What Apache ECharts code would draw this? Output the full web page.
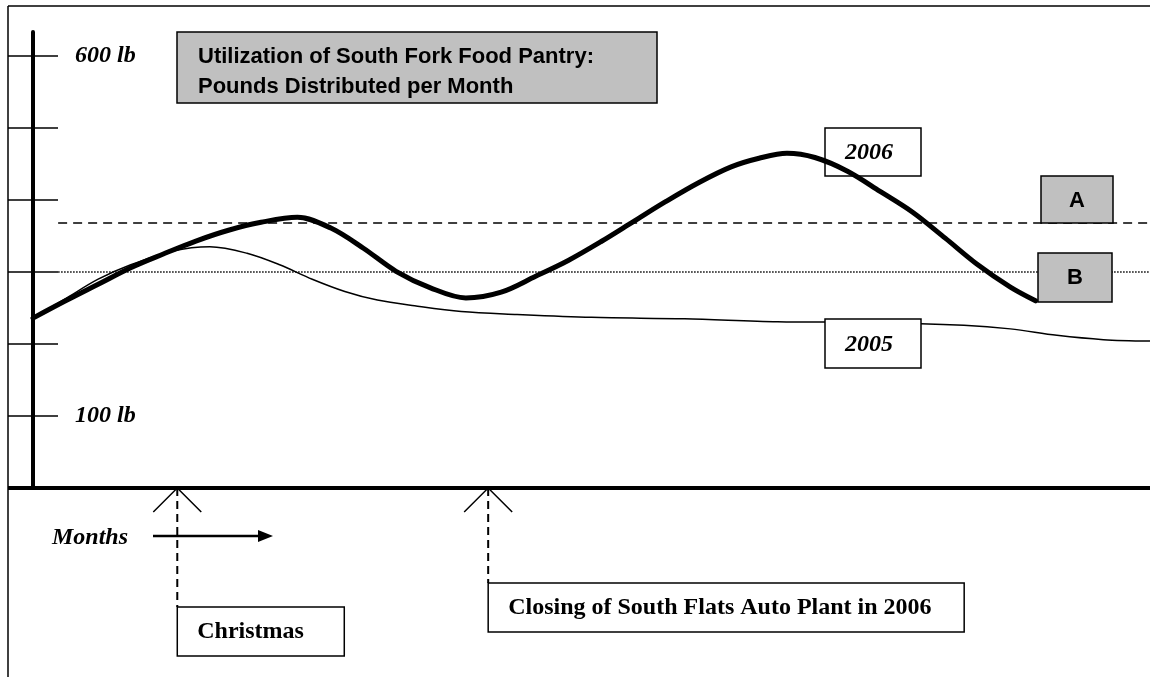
<!DOCTYPE html>
<html><head><meta charset="utf-8">
<script src="https://cdn.jsdelivr.net/npm/echarts@6/dist/echarts.min.js"></script>
<style>html,body{margin:0;padding:0;background:#fff}#c{width:1150px;height:677px}</style>
</head><body><div id="c"></div>
<script>
// ---- data (x = months from start, y = pounds) ----
const MONTHS_2006 = [0, 0.35, 0.7, 1.05, 1.4, 1.75, 2.1, 2.45, 2.84, 3.2, 3.55, 3.9, 4.27, 4.65, 5.03, 5.4, 5.75, 6.1, 6.45, 6.8, 7.15, 7.5, 7.8, 8.1, 8.4, 8.75, 9.1, 9.45, 9.8, 10.15, 10.5, 10.77];
const LB_2006     = [236, 260, 283, 306, 325, 343, 358, 369, 376, 361, 333, 301, 278, 264, 272, 294, 316, 342, 370, 398, 424, 446, 458, 465, 459, 440, 412, 383, 347, 310, 279, 260];
const MONTHS_2005 = [0, 0.35, 0.7, 1.05, 1.5, 1.9, 2.3, 2.65, 3.0, 3.35, 3.7, 4.1, 4.6, 5.2, 6, 7, 8, 9, 10, 10.5, 11, 11.5, 12];
const LB_2005     = [236, 263, 290, 310, 329, 335, 326, 310, 290, 273, 261, 253, 245, 241, 237, 235, 231, 230, 226, 221, 212, 206, 204];
const LEVEL_A = 368;
const LEVEL_B = 300;
const LEVEL_START = 0.27;
const X_MAX = 12;
const Y_MAX = 633.33;
const Y_TICKS = [100, 200, 300, 400, 500, 600];
const Y_LABELS = [100, 600];
const EVENTS = [
  { month: 1.55, label: 'Christmas' },
  { month: 4.89, label: 'Closing of South Flats Auto Plant in 2006' }
];
const TITLE_LINES = ['Utilization of South Fork Food Pantry:', 'Pounds Distributed per Month'];

const SERIF = '"Liberation Serif","Times New Roman",serif';
const SANS = '"Liberation Sans",Arial,sans-serif';

const chart = echarts.init(document.getElementById('c'), null, { renderer: 'canvas' });
const zip = (xs, ys) => xs.map((x, i) => [x, ys[i]]);

chart.setOption({
  animation: false,
  grid: { left: 33, right: 0, top: 32, bottom: 189 },
  xAxis: {
    type: 'value', min: 0, max: X_MAX,
    axisLine: { show: true, onZero: false, lineStyle: { color: '#000', width: 4 } },
    axisTick: { show: false }, axisLabel: { show: false }, splitLine: { show: false }
  },
  yAxis: [
    {
      type: 'value', min: 0, max: Y_MAX,
      axisLine: { show: true, onZero: false, lineStyle: { color: '#000', width: 4 } },
      axisTick: { show: true, length: 25, customValues: Y_TICKS, lineStyle: { color: '#000', width: 1.5 } },
      axisLabel: { show: false }, splitLine: { show: false }
    },
    {
      type: 'value', min: 0, max: Y_MAX, position: 'left',
      axisLine: { show: false },
      axisTick: { show: true, inside: true, length: 25, customValues: Y_TICKS, lineStyle: { color: '#000', width: 1.5 } },
      axisLabel: {
        show: true, inside: true, margin: 42, customValues: Y_LABELS,
        formatter: v => v + ' lb',
        fontFamily: SERIF, fontStyle: 'italic', fontWeight: 'bold', fontSize: 24, color: '#000'
      },
      splitLine: { show: false }
    }
  ],
  series: [
    { name: 'A', type: 'line', z: 2, symbol: 'none', silent: true,
      data: [[LEVEL_START, LEVEL_A], [X_MAX, LEVEL_A]],
      lineStyle: { color: '#000', width: 1.5, type: [9, 6] } },
    { name: 'B', type: 'line', z: 2, symbol: 'none', silent: true,
      data: [[LEVEL_START, LEVEL_B], [X_MAX, LEVEL_B]],
      lineStyle: { color: '#000', width: 1.5, type: [1.5, 1.5] } },
    { name: '2005', type: 'line', z: 2, symbol: 'none', smooth: 0.33,
      data: zip(MONTHS_2005, LB_2005),
      lineStyle: { color: '#000', width: 1.5 } },
    { name: '2006', type: 'line', z: 6, symbol: 'none', smooth: 0.33,
      data: zip(MONTHS_2006, LB_2006),
      lineStyle: { color: '#000', width: 5, cap: 'round', join: 'round' } }
  ]
});

// ---- annotations ----
const g = [];
const line = (x1, y1, x2, y2, w, dash, z) => g.push({ type: 'line', z: z || 8, shape: { x1, y1, x2, y2 },
  style: { stroke: '#000', lineWidth: w, lineDash: dash || null } });
const box = (x, y, w, h, fill, z) => g.push({ type: 'rect', z: z || 4, shape: { x, y, width: w, height: h },
  style: { fill, stroke: '#000', lineWidth: 1.5 } });
const text = (x, y, t, font, align, z) => g.push({ type: 'text', z: z || 7, x, y,
  style: { text: t, font, fill: '#000', textAlign: align || 'left', textVerticalAlign: 'middle' } });

// page frame
line(8, 6, 1150, 6, 1.5);
line(8, 6, 8, 677, 1.5);
// x axis runs out to the frame
line(8, 488, 36, 488, 4);

// title
box(177, 32, 480, 71, '#c0c0c0', 4);
text(198, 57, TITLE_LINES[0], 'bold 22px ' + SANS);
text(198, 87, TITLE_LINES[1], 'bold 22px ' + SANS);

// series labels
box(825, 128, 96, 48, '#fff', 4);
text(869, 153, '2006', 'italic bold 24px ' + SERIF, 'center', 5);
box(825, 319, 96, 49, '#fff', 4);
text(869, 345, '2005', 'italic bold 24px ' + SERIF, 'center', 5);
box(1041, 176, 72, 47, '#c0c0c0', 4);
text(1077, 201, 'A', 'bold 22px ' + SANS, 'center', 5);
box(1038, 253, 74, 49, '#c0c0c0', 4);
text(1075, 278, 'B', 'bold 22px ' + SANS, 'center', 5);

// months arrow
text(52, 538, 'Months', 'italic bold 24px ' + SERIF);
line(153, 536, 260, 536, 2.5);
g.push({ type: 'polygon', z: 8, shape: { points: [[258, 530], [273, 536], [258, 542]] }, style: { fill: '#000' } });

// events
const baseY = chart.convertToPixel({ gridIndex: 0 }, [0, 0])[1];
const boxTops = [607, 583];
const boxW = [167, 476];
EVENTS.forEach((ev, i) => {
  const px = chart.convertToPixel({ gridIndex: 0 }, [ev.month, 0])[0];
  g.push({ type: 'polyline', z: 8, shape: { points: [[px - 24, baseY + 24], [px, baseY], [px + 24, baseY + 24]] },
    style: { stroke: '#000', lineWidth: 1.5, fill: null } });
  line(px, baseY, px, boxTops[i], 2, [8, 5]);
  box(px, boxTops[i], boxW[i], 49, '#fff', 4);
  text(px + 20, boxTops[i] + 25, ev.label, 'bold 24px ' + SERIF);
});

chart.setOption({ graphic: g });
</script>
</body></html>
